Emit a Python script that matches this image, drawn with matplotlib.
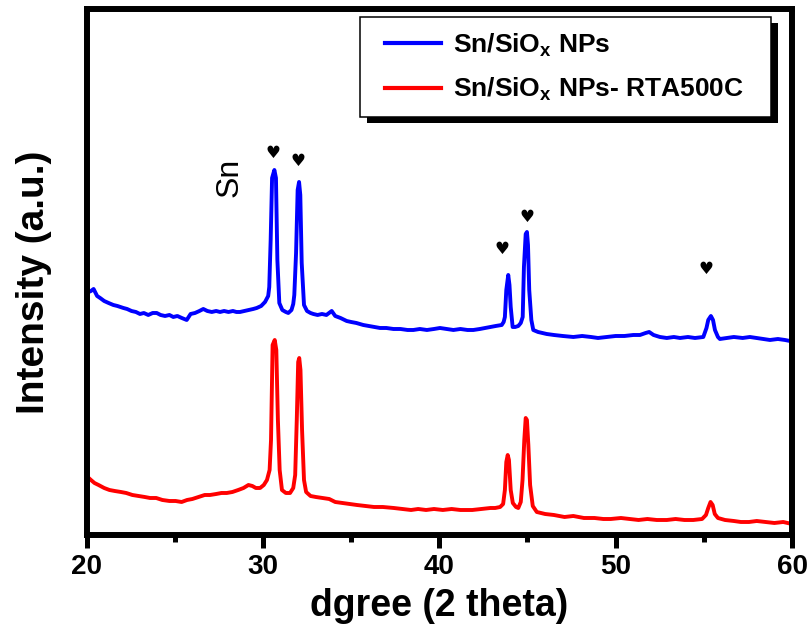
import matplotlib
matplotlib.use('Agg')
import matplotlib.pyplot as plt
from matplotlib.patches import Rectangle
from matplotlib.transforms import IdentityTransform
from matplotlib.ticker import MultipleLocator
from matplotlib.legend_handler import HandlerLine2D

plt.rcParams['font.family'] = ['Liberation Sans', 'DejaVu Sans']
plt.rcParams['font.weight'] = 'bold'
plt.rcParams['mathtext.fontset'] = 'custom'
plt.rcParams['mathtext.rm'] = 'Liberation Sans:bold'
plt.rcParams['mathtext.it'] = 'Liberation Sans:bold'
plt.rcParams['mathtext.bf'] = 'Liberation Sans:bold'

# as-prepared sample (2 theta, counts a.u.)
tt_asprep = [20.00, 20.25, 20.40, 20.60, 20.77, 21.00, 21.25, 21.52, 21.75, 22.09,
             22.30, 22.55, 22.80, 23.03, 23.25, 23.50, 23.75, 23.98, 24.20, 24.45,
             24.70, 24.92, 25.15, 25.40, 25.68, 25.90, 26.15, 26.40, 26.62, 26.85,
             27.10, 27.35, 27.57, 27.80, 28.05, 28.30, 28.50, 28.70, 28.95, 29.20,
             29.45, 29.65, 29.90, 30.12, 30.30, 30.36, 30.44, 30.52, 30.65, 30.74,
             30.82, 30.93, 31.10, 31.30, 31.44, 31.62, 31.72, 31.78, 31.88, 31.97,
             32.05, 32.12, 32.20, 32.33, 32.50, 32.70, 32.86, 33.10, 33.35, 33.60,
             33.90, 34.10, 34.40, 34.75, 35.00, 35.30, 35.69, 36.00, 36.30, 36.64,
             37.00, 37.40, 37.80, 38.20, 38.53, 38.90, 39.30, 39.70, 40.04, 40.40,
             40.80, 41.20, 41.60, 41.93, 42.30, 42.60, 42.87, 43.20, 43.54, 43.65,
             43.72, 43.80, 43.91, 43.98, 44.05, 44.16, 44.30, 44.48, 44.62, 44.73,
             44.80, 44.90, 44.97, 45.03, 45.10, 45.22, 45.33, 45.60, 46.09, 46.50,
             47.00, 47.60, 48.10, 48.60, 49.00, 49.49, 50.00, 50.50, 51.00, 51.38,
             51.70, 51.90, 52.15, 52.51, 52.90, 53.30, 53.65, 54.10, 54.50, 54.97,
             55.15, 55.25, 55.40, 55.52, 55.63, 55.80, 55.91, 56.30, 56.70, 57.20,
             57.61, 58.00, 58.40, 58.75, 59.20, 59.60, 59.88, 60.00]
int_asprep = [242, 244, 246, 239, 237, 234, 232, 230, 229, 227,
              226, 224, 223, 221, 222, 220, 222, 222, 220, 219,
              220, 218, 219, 217, 215, 221, 222, 224, 226, 224,
              223, 224, 223, 224, 223, 224, 223, 223, 224, 225,
              226, 227, 229, 233, 239, 248, 295, 357, 365, 357,
              275, 232, 225, 223, 222, 225, 231, 240, 282, 345,
              353, 340, 272, 230, 224, 222, 221, 220, 221, 220,
              224, 219, 217, 214, 213, 212, 210, 209, 208, 207,
              207, 206, 206, 205, 205, 206, 205, 206, 207, 206,
              205, 206, 205, 205, 206, 207, 208, 209, 210, 213,
              218, 245, 260, 250, 228, 208, 208, 209, 212, 218,
              268, 301, 303, 290, 245, 215, 205, 203, 201, 200,
              199, 198, 199, 198, 197, 198, 199, 199, 200, 200,
              202, 203, 200, 198, 197, 198, 197, 198, 197, 198,
              207, 215, 219, 215, 205, 198, 196, 197, 198, 197,
              198, 197, 196, 195, 196, 195, 194, 194]

# after rapid thermal anneal at 500 C
tt_rta = [20.00, 20.25, 20.45, 20.68, 21.00, 21.30, 21.60, 21.95, 22.25, 22.60,
          22.95, 23.30, 23.60, 23.95, 24.30, 24.70, 25.05, 25.39, 25.70, 26.00,
          26.35, 26.70, 27.00, 27.35, 27.65, 27.95, 28.27, 28.60, 28.90, 29.18,
          29.40, 29.60, 29.84, 30.05, 30.23, 30.38, 30.46, 30.55, 30.67, 30.76,
          30.85, 30.95, 31.08, 31.30, 31.54, 31.72, 31.83, 31.92, 32.00, 32.06,
          32.13, 32.22, 32.33, 32.45, 32.70, 33.00, 33.40, 33.76, 34.10, 34.50,
          34.90, 35.33, 35.80, 36.30, 36.80, 37.42, 37.90, 38.40, 38.80, 39.25,
          39.70, 40.20, 40.70, 41.20, 41.87, 42.40, 42.90, 43.17, 43.45, 43.62,
          43.72, 43.80, 43.88, 43.95, 44.05, 44.17, 44.35, 44.48, 44.62, 44.72,
          44.82, 44.90, 44.97, 45.05, 45.15, 45.30, 45.53, 46.00, 46.50, 47.10,
          47.60, 48.20, 48.80, 49.30, 49.72, 50.30, 50.80, 51.30, 51.80, 52.33,
          52.90, 53.40, 53.90, 54.40, 54.90, 55.12, 55.25, 55.38, 55.50, 55.62,
          55.80, 56.20, 56.70, 57.10, 57.56, 58.00, 58.50, 59.00, 59.50, 60.00]
int_rta = [59, 55, 52, 50, 47, 45, 44, 43, 42, 40,
           39, 38, 37, 37, 35, 34, 34, 33, 35, 36,
           38, 40, 40, 41, 42, 42, 43, 45, 47, 50,
           49, 47, 47, 50, 55, 65, 95, 190, 195, 185,
           115, 65, 45, 42, 42, 47, 60, 115, 173, 177,
           165, 105, 55, 43, 39, 38, 37, 36, 33, 32,
           31, 30, 29, 28, 28, 27, 26, 25, 26, 25,
           26, 25, 26, 25, 25, 26, 27, 27, 28, 31,
           45, 73, 80, 75, 45, 32, 28, 27, 33, 55,
           95, 117, 115, 90, 50, 29, 23, 21, 20, 18,
           19, 17, 17, 16, 16, 17, 16, 15, 16, 15,
           15, 16, 15, 15, 16, 20, 27, 33, 30, 21,
           17, 15, 14, 13, 13, 14, 13, 12, 13, 11]

# Sn reflections marked on the upper pattern
sn_peak_tt = [30.58, 31.98, 43.57, 44.96, 55.10]
sn_mark_y = [382, 374, 286, 318, 266]

labels = ['Sn/SiO$_\\mathrm{x}$ NPs', 'Sn/SiO$_\\mathrm{x}$ NPs- RTA500C']

fig = plt.figure(figsize=(8.11, 6.28), dpi=100)
ax = fig.add_axes([0.1067, 0.1481, 0.8699, 0.8376])

ax.plot(tt_asprep, int_asprep, color='#0000ff', lw=2.8, label=labels[0])
ax.plot(tt_rta, int_rta, color='#ff0000', lw=2.8, label=labels[1])

for x, y in zip(sn_peak_tt, sn_mark_y):
    ax.text(x, y, '\u2665', ha='center', va='center', fontsize=12,
            family='DejaVu Sans', color='black')
ax.text(28.1, 358, 'Sn', rotation=90, ha='center', va='center',
        fontsize=23, fontweight='normal')

ax.set_xlim(20, 60)
ax.set_ylim(0, 526)
ax.xaxis.set_major_locator(MultipleLocator(10))
ax.xaxis.set_minor_locator(MultipleLocator(5))
ax.set_yticks([])
for s in ax.spines.values():
    s.set_linewidth(4.3)
ax.tick_params(axis='x', which='major', direction='out', length=9.5, width=3.6,
               pad=4, labelsize=20)
ax.tick_params(axis='x', which='minor', direction='out', length=5, width=3.6)
ax.set_xlabel('dgree (2 theta)', fontsize=27, fontweight='bold', labelpad=6)
ax.set_ylabel('Intensity (a.u.)', fontsize=28, fontweight='bold')
ax.yaxis.set_label_coords(-0.049, 0.481)

leg = ax.legend(loc='upper left', bbox_to_anchor=(0.3877, 0.795, 0.5826, 0.19),
                mode='expand', borderaxespad=0, fancybox=False, framealpha=1,
                edgecolor='black', prop={'weight': 'bold', 'size': 19},
                handlelength=2.53, handletextpad=0.45, borderpad=0.55,
                labelspacing=0.65,
                handler_map={plt.Line2D: HandlerLine2D(xpad=0.4)})
leg.get_frame().set_linewidth(1.1)
for h in leg.get_lines():
    h.set_linewidth(3)
leg.set_zorder(6)

# solid drop shadow behind the legend box
fig.canvas.draw()
bb = leg.get_frame().get_window_extent()
shadow = Rectangle((bb.x0 + 7, bb.y0 - 6), bb.width, bb.height,
                   transform=IdentityTransform(), facecolor='black',
                   edgecolor='none', zorder=5.5, clip_on=False)
ax.add_artist(shadow)

fig.savefig('out.png', dpi=100)
